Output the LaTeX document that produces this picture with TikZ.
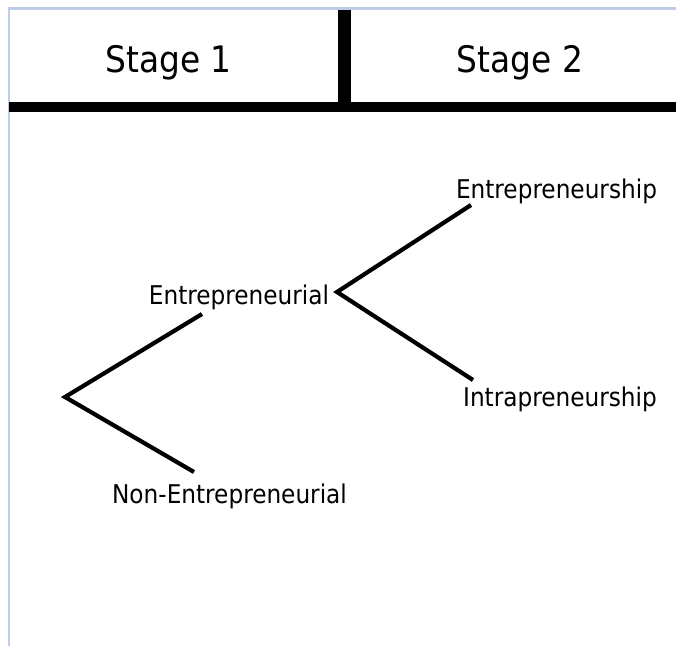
\documentclass[tikz,border=0pt]{standalone}
\usepackage{fontspec}
\setmainfont{DejaVu Sans Condensed}
\usepackage{xcolor}
\usetikzlibrary{positioning}

\definecolor{framecol}{RGB}{190,204,234}

\begin{document}
\begin{tikzpicture}[
  x=1pt,y=-1pt,
  stage/.style={font=\fontsize{36.5}{40}\selectfont,anchor=base,inner sep=0pt},
  lbl/.style={font=\fontsize{25.8}{30}\selectfont,anchor=base,inner sep=0pt},
  branch/.style={line width=4.2pt},
  bar/.style={line width=10pt}
]
\useasboundingbox (0,0) rectangle (676,646);

% page frame and header
\draw[framecol,line width=2.2pt] (9,646) -- (9,8.5) -- (676,8.5);
\draw[bar] (9,106.5) -- (676,106.5);
\draw[line width=13pt] (344.5,9.5) -- (344.5,102);

\node[stage] (stage1) at (168.5,72) {Stage 1};
\node[stage] (stage2) at (520,72) {Stage 2};

% tree labels
\node[lbl] (entre) at (239,304) {Entrepreneurial};
\node[lbl] (nonentre) at (229.5,503) {Non-Entrepreneurial};
\node[lbl] (ship) at (556.5,198) {Entrepreneurship};
\node[lbl] (intra) at (560,406) {Intrapreneurship};

% branch points and free ends
\coordinate (root) at (65,397);
\coordinate (fork) at (337,292);
\coordinate (rootup) at (202,314);
\coordinate (rootdown) at (194,472);
\coordinate (forkup) at (471,205);
\coordinate (forkdown) at (473,380);

\draw[branch] (rootup) -- (root) -- (rootdown);
\draw[branch] (forkup) -- (fork) -- (forkdown);
\end{tikzpicture}
\end{document}
